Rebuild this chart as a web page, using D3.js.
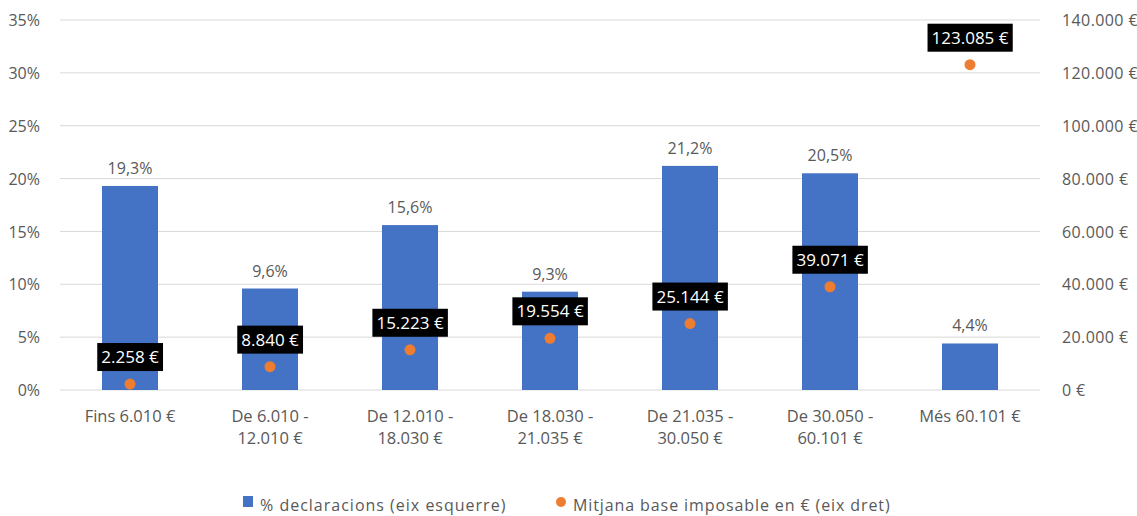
<!DOCTYPE html>
<html lang="ca">
<head>
<meta charset="utf-8">
<script src="https://cdnjs.cloudflare.com/ajax/libs/d3/7.8.5/d3.min.js"></script>
<style>
  body { margin: 0; background: #fff; }
  svg text { font-family: "Open Sans", "Liberation Sans", sans-serif; fill: #595959; }
  .grid line { stroke: #d9d9d9; stroke-width: 1; }
  .axis path, .axis line { display: none; }
  .axis text { font-size: 16px; }
</style>
</head>
<body>
<script>
// data
var categories = [
  ['Fins 6.010 €'],
  ['De 6.010 -', '12.010 €'],
  ['De 12.010 -', '18.030 €'],
  ['De 18.030 -', '21.035 €'],
  ['De 21.035 -', '30.050 €'],
  ['De 30.050 -', '60.101 €'],
  ['Més 60.101 €']
];
var pctDeclaracions = [19.3, 9.6, 15.6, 9.3, 21.2, 20.5, 4.4];
var mitjanaBase = [2258, 8840, 15223, 19554, 25144, 39071, 123085];
var leftTicks = [0, 5, 10, 15, 20, 25, 30, 35];
var rightTicks = [0, 20000, 40000, 60000, 80000, 100000, 120000, 140000];
var legendLabels = ['% declaracions (eix esquerre)', 'Mitjana base imposable en € (eix dret)'];

var width = 1137, height = 516;
var margin = {top: 20, right: 97, bottom: 126, left: 60};

var svg = d3.select('body').append('svg')
  .attr('width', width)
  .attr('height', height);

var x = d3.scaleBand()
  .domain(d3.range(categories.length))
  .range([margin.left, width - margin.right])
  .paddingInner(0.6)
  .paddingOuter(0.3);

var yL = d3.scaleLinear().domain([0, 35]).range([height - margin.bottom, margin.top]);
var yR = d3.scaleLinear().domain([0, 140000]).range([height - margin.bottom, margin.top]);

var nf = d3.formatLocale({decimal: ',', thousands: '.', grouping: [3], currency: ['', ' €']});
var fmtEur = nf.format('$,.0f');
var fmtPct = function (v) { return nf.format('.1f')(v) + '%'; };

// gridlines
svg.append('g').attr('class', 'grid')
  .selectAll('line').data(leftTicks).enter().append('line')
  .attr('x1', margin.left).attr('x2', width - margin.right)
  .attr('y1', function (d) { return yL(d); }).attr('y2', function (d) { return yL(d); });

// axes
svg.append('g').attr('class', 'axis')
  .attr('transform', 'translate(' + (margin.left - 17) + ',0)')
  .call(d3.axisLeft(yL).tickValues(leftTicks).tickSize(0).tickFormat(function (d) { return d + '%'; }))
  .selectAll('text').attr('dy', '0.35em');

svg.append('g').attr('class', 'axis')
  .attr('transform', 'translate(' + (width - margin.right + 19) + ',0)')
  .call(d3.axisRight(yR).tickValues(rightTicks).tickSize(0).tickFormat(fmtEur))
  .selectAll('text').attr('dy', '0.35em').style('letter-spacing', '0.4px');

// bars
svg.append('g').selectAll('rect').data(pctDeclaracions).enter().append('rect')
  .attr('x', function (d, i) { return x(i); })
  .attr('width', x.bandwidth())
  .attr('y', function (d) { return yL(d); })
  .attr('height', function (d) { return yL(0) - yL(d); })
  .attr('fill', '#4472c4');

svg.append('g').selectAll('text').data(pctDeclaracions).enter().append('text')
  .attr('x', function (d, i) { return x(i) + x.bandwidth() / 2; })
  .attr('y', function (d) { return yL(d) - 12; })
  .attr('text-anchor', 'middle')
  .style('font-size', '16px')
  .text(fmtPct);

// category labels
var cat = svg.append('g').selectAll('text').data(categories).enter().append('text')
  .attr('x', function (d, i) { return x(i) + x.bandwidth() / 2; })
  .attr('y', height - margin.bottom + 32)
  .attr('text-anchor', 'middle')
  .style('font-size', '16.5px');
cat.selectAll('tspan').data(function (d) { return d; }).enter().append('tspan')
  .attr('x', function () { return d3.select(this.parentNode).attr('x'); })
  .attr('dy', function (d, j) { return j === 0 ? 0 : 22; })
  .text(function (d) { return d; });

// points
svg.append('g').selectAll('circle').data(mitjanaBase).enter().append('circle')
  .attr('cx', function (d, i) { return x(i) + x.bandwidth() / 2; })
  .attr('cy', function (d) { return yR(d); })
  .attr('r', 5.5)
  .attr('fill', '#ed7d31');

var lbl = svg.append('g').selectAll('g').data(mitjanaBase).enter().append('g')
  .attr('transform', function (d, i) {
    return 'translate(' + (x(i) + x.bandwidth() / 2) + ',' + (yR(d) - 27) + ')';
  });
lbl.append('text')
  .attr('text-anchor', 'middle')
  .attr('dy', '0.35em')
  .style('font-size', '17px')
  .style('fill', '#fff')
  .text(fmtEur);
lbl.each(function () {
  var g = d3.select(this);
  var bb = g.select('text').node().getBBox();
  g.insert('rect', 'text')
    .attr('x', bb.x - 4).attr('y', -14)
    .attr('width', bb.width + 8).attr('height', 28)
    .attr('fill', '#000');
});

// legend
var leg = svg.append('g').attr('transform', 'translate(0,' + (height - 5) + ')');
leg.append('rect').attr('x', 243).attr('y', -15).attr('width', 10).attr('height', 11).attr('fill', '#4472c4');
leg.append('text').attr('x', 260).attr('y', 0).style('font-size', '16px').style('letter-spacing', '1px').text(legendLabels[0]);
leg.append('circle').attr('cx', 561).attr('cy', -9).attr('r', 5).attr('fill', '#ed7d31');
leg.append('text').attr('x', 573).attr('y', 0).style('font-size', '16px').style('letter-spacing', '0.9px').text(legendLabels[1]);
</script>
</body>
</html>
